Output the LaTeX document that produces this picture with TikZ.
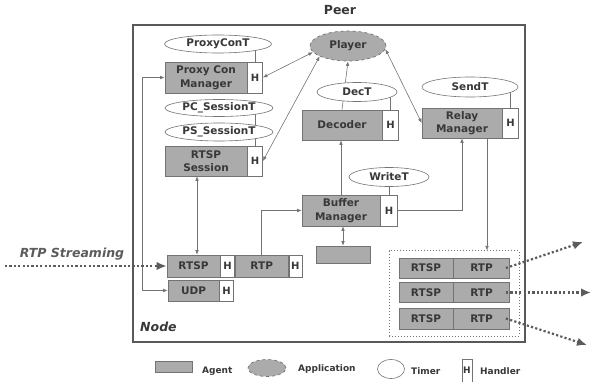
\documentclass[tikz,border=0pt]{standalone}
\usepackage{fontspec}
\setmainfont{DejaVu Sans}
\usetikzlibrary{shapes.geometric,arrows.meta,calc,backgrounds}

\definecolor{agentgray}{gray}{0.67}
\definecolor{linegray}{gray}{0.45}
\definecolor{txt}{gray}{0.22}
\definecolor{framegray}{gray}{0.35}
\definecolor{streamgray}{gray}{0.36}

\newcommand\agentfont{\fontsize{10.5}{13.5}\selectfont\bfseries}
\newcommand\handlerfont{\fontsize{10}{12}\selectfont\bfseries}
\newcommand\titlefont{\fontsize{12.5}{14}\selectfont\bfseries}
\newcommand\slantfont{\fontsize{12.5}{14}\selectfont\bfseries\itshape}
\newcommand\legendfont{\fontsize{9}{11}\selectfont\bfseries}

\begin{document}
\begin{tikzpicture}[x=1pt,y=-1pt,
  >={Latex[length=4.5pt,width=3.6pt]},
  agent/.style={draw=linegray, line width=0.6pt, fill=agentgray, text=txt,
    font=\agentfont, align=center, inner sep=0pt},
  hbox/.style={draw=linegray, line width=0.6pt, fill=white, text=txt,
    font=\handlerfont, inner sep=0pt, anchor=west},
  timer/.style={ellipse, draw=linegray, line width=0.6pt, fill=white, text=txt,
    font=\agentfont, inner sep=-30pt},
  app/.style={ellipse, draw=linegray, line width=0.7pt, dashed, fill=agentgray,
    text=txt, font=\agentfont, inner sep=-30pt},
  conn/.style={draw=linegray, line width=0.6pt},
  stream/.style={draw=streamgray, line width=2.2pt, dash pattern=on 2.2pt off 2.2pt,
    -{Latex[length=10pt,width=8.5pt]}},
  legtext/.style={text=txt, font=\legendfont, inner sep=0pt, anchor=west}]

\useasboundingbox (0,0) rectangle (592,382);

% peer frame and its labels
\node[draw=framegray, line width=1.3pt, minimum width=392pt, minimum height=317pt,
  inner sep=0pt] (peerframe) at (329,183.5) {};
\node[text=txt, font=\titlefont] (peer) at (340,10) {Peer};
\node[text=txt, font=\slantfont, anchor=west, inner sep=0pt] (nodelbl) at (140,327) {Node};

% agents with their handlers
\node[agent, minimum width=82pt, minimum height=31pt] (pcm) at (206,77.5) {Proxy Con\\Manager};
\node[hbox, minimum width=15pt, minimum height=31pt] (pcmH) at (pcm.east) {H};

\node[agent, minimum width=82pt, minimum height=30pt] (rs) at (206,161) {RTSP\\Session};
\node[hbox, minimum width=15pt, minimum height=30pt] (rsH) at (rs.east) {H};

\node[agent, minimum width=80pt, minimum height=30pt] (dec) at (342,125) {Decoder};
\node[hbox, minimum width=16pt, minimum height=30pt] (decH) at (dec.east) {H};

\node[agent, minimum width=80pt, minimum height=30pt] (rel) at (462,123) {Relay\\Manager};
\node[hbox, minimum width=16pt, minimum height=30pt] (relH) at (rel.east) {H};

\node[agent, minimum width=78pt, minimum height=31pt] (buf) at (341,210.5) {Buffer\\Manager};
\node[hbox, minimum width=17pt, minimum height=31pt] (bufH) at (buf.east) {H};

\node[agent, minimum width=54pt, minimum height=17pt] (sb) at (343,254.5) {};

\node[agent, minimum width=53pt, minimum height=22pt] (rtsp1) at (193.5,266) {RTSP};
\node[hbox, minimum width=14pt, minimum height=22pt] (rtsp1H) at (rtsp1.east) {H};
\node[agent, anchor=west, minimum width=53pt, minimum height=22pt] (rtp1) at (rtsp1H.east) {RTP};
\node[hbox, minimum width=13pt, minimum height=22pt] (rtp1H) at (rtp1.east) {H};

\node[agent, minimum width=51pt, minimum height=21pt] (udp) at (193.5,290.5) {UDP};
\node[hbox, minimum width=14pt, minimum height=21pt] (udpH) at (udp.east) {H};

% outgoing sessions
\node[draw=linegray, line width=1pt, dotted, minimum width=130pt, minimum height=85pt,
  inner sep=0pt] (grp) at (454,293.5) {};
\node[agent, minimum width=54pt, minimum height=20pt] (rtspA) at (426,268) {RTSP};
\node[agent, anchor=west, minimum width=56pt, minimum height=20pt] (rtpA) at (rtspA.east) {RTP};
\node[agent, minimum width=54pt, minimum height=20pt] (rtspB) at (426,292.5) {RTSP};
\node[agent, anchor=west, minimum width=56pt, minimum height=20pt] (rtpB) at (rtspB.east) {RTP};
\node[agent, minimum width=54pt, minimum height=21pt] (rtspC) at (426,318.5) {RTSP};
\node[agent, anchor=west, minimum width=56pt, minimum height=21pt] (rtpC) at (rtspC.east) {RTP};

% timers and the player
\node[timer, minimum width=107pt, minimum height=18pt] (pct) at (218,44) {ProxyConT};
\node[timer, minimum width=108pt, minimum height=17pt] (pcst) at (219,108) {PC\_SessionT};
\node[timer, minimum width=108pt, minimum height=18pt] (psst) at (219,132) {PS\_SessionT};
\node[timer, minimum width=80pt, minimum height=19pt] (dect) at (357,92) {DecT};
\node[timer, minimum width=96pt, minimum height=20pt] (sendt) at (470,87) {SendT};
\node[timer, minimum width=80pt, minimum height=19pt] (writet) at (389,177) {WriteT};
\node[app, minimum width=76pt, minimum height=30pt] (player) at (348,46) {Player};

% connectors
\begin{scope}[on background layer]
  \draw[conn] (pcmH.north) -- (pcmH.north |- pct.center);
  \draw[conn] (rsH.north) -- (rsH.north |- pcst.center);
  \draw[conn] (decH.north) -- (decH.north |- dect.center);
  \draw[conn] (bufH.north) -- (bufH.north |- writet.center);
  \draw[conn] (relH.north) -- (relH.north |- sendt.center);

  \draw[conn,<->] (pcmH.east) -- (player.190);
  \draw[conn,<->] (rsH.east) -- (player.200);
  \draw[conn,<->] (player.355) -- (rel.west);
  \draw[conn,->] (dec.north) -- (player.south);
  \draw[conn,->] (buf.north) -- (buf.north |- dec.south);
  \draw[conn,->] (bufH.east) -| (rel.south);
  \draw[conn,<->] (sb.north |- buf.south) -- (sb.north);
  \draw[conn,->] (rtp1.north) |- (buf.west);
  \coordinate (rsdown) at ($(rs.south)+(-9,0)$);
  \draw[conn,<->] (rsdown) -- (rsdown |- rtsp1.north);
  \draw[conn,<->] (udp.west) -- ++(-25,0) |- (pcm.west);
  \coordinate (relout) at ($(rel.south)+(25,0)$);
  \draw[conn,->] (relout) -- (relout |- grp.north);
\end{scope}

% streams in and out
\node[text=streamgray, font=\slantfont, inner sep=0pt] (rtpstream) at (72,254) {RTP Streaming};
\coordinate (src) at (5,266);
\draw[stream] (src) -- (rtsp1.west);
\coordinate (out1) at (583,242);
\coordinate (out2) at (591,292.5);
\coordinate (out3) at (587,345);
\draw[stream] ($(rtpA.east)+(-4,0)$) -- (out1);
\draw[stream] ($(rtpB.east)+(-4,0)$) -- (out2);
\draw[stream] ($(rtpC.east)+(-4,0)$) -- (out3);

% legend
\node[agent, minimum width=37pt, minimum height=11pt] (legA) at (173.5,367) {};
\node[legtext] (legAt) at (202,371) {Agent};
\node[app, minimum width=38pt, minimum height=17pt] (legP) at (267,368) {};
\node[legtext] (legPt) at (298,369) {Application};
\node[timer, minimum width=27pt, minimum height=19pt] (legT) at (391,369) {};
\node[legtext] (legTt) at (411,371) {Timer};
\node[hbox, anchor=center, font=\legendfont, minimum width=10pt, minimum height=23pt] (legH) at (467,370.5) {H};
\node[legtext] (legHt) at (480,371) {Handler};
\end{tikzpicture}
\end{document}
